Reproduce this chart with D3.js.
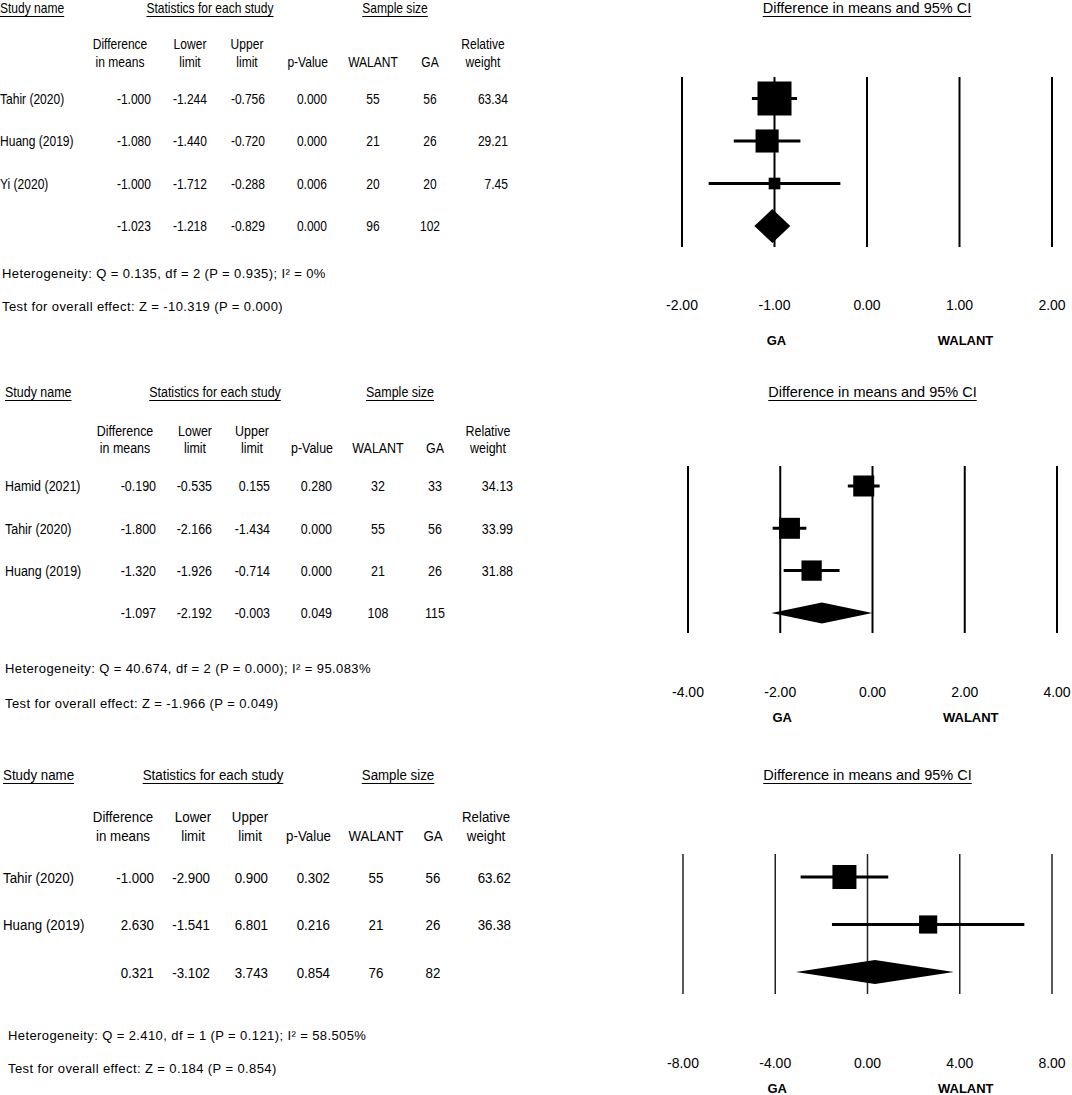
<!DOCTYPE html>
<html>
<head>
<meta charset="utf-8">
<script src="https://cdn.jsdelivr.net/npm/d3@7"></script>
<style>
  body { margin: 0; background: #fff; }
  text { font-family: Arial, 'Liberation Sans', sans-serif; fill: #000; }
</style>
</head>
<body>
<div id="chart"></div>
<script>
// ---- data ----
var studies1 = ['Tahir (2020)', 'Huang (2019)', 'Yi (2020)']
var diff1 = [-1.0, -1.08, -1.0]
var lower1 = [-1.244, -1.44, -1.712]
var upper1 = [-0.756, -0.72, -0.288]
var pval1 = [0.0, 0.0, 0.006]
var walant1 = [55, 21, 20]
var ga1 = [56, 26, 20]
var weight1 = [63.34, 29.21, 7.45]
var pooled1 = [-1.023, -1.218, -0.829]
var pooledP1 = 0.0
var pooledN1 = [96, 102]
var ticks1 = [-2, -1, 0, 1, 2]
var het1 = 'Heterogeneity: Q = 0.135, df = 2 (P = 0.935); I² = 0%'
var overall1 = 'Test for overall effect: Z = -10.319 (P = 0.000)'

var studies2 = ['Hamid (2021)', 'Tahir (2020)', 'Huang (2019)']
var diff2 = [-0.19, -1.8, -1.32]
var lower2 = [-0.535, -2.166, -1.926]
var upper2 = [0.155, -1.434, -0.714]
var pval2 = [0.28, 0.0, 0.0]
var walant2 = [32, 55, 21]
var ga2 = [33, 56, 26]
var weight2 = [34.13, 33.99, 31.88]
var pooled2 = [-1.097, -2.192, -0.003]
var pooledP2 = 0.049
var pooledN2 = [108, 115]
var ticks2 = [-4, -2, 0, 2, 4]
var het2 = 'Heterogeneity: Q = 40.674, df = 2 (P = 0.000); I² = 95.083%'
var overall2 = 'Test for overall effect: Z = -1.966 (P = 0.049)'

var studies3 = ['Tahir (2020)', 'Huang (2019)']
var diff3 = [-1.0, 2.63]
var lower3 = [-2.9, -1.541]
var upper3 = [0.9, 6.801]
var pval3 = [0.302, 0.216]
var walant3 = [55, 21]
var ga3 = [56, 26]
var weight3 = [63.62, 36.38]
var pooled3 = [0.321, -3.102, 3.743]
var pooledP3 = 0.854
var pooledN3 = [76, 82]
var ticks3 = [-8, -4, 0, 4, 8]
var het3 = 'Heterogeneity: Q = 2.410, df = 1 (P = 0.121); I² = 58.505%'
var overall3 = 'Test for overall effect: Z = 0.184 (P = 0.854)'

var groupLabels = ['Study name', 'Statistics for each study', 'Sample size']
var plotTitle = 'Difference in means and 95% CI'
var favours = ['GA', 'WALANT']

// ---- build panel tables ----
var panels = [
  { studies: studies1, diff: diff1, lower: lower1, upper: upper1, p: pval1, walant: walant1, ga: ga1, weight: weight1,
    pooled: pooled1, pooledP: pooledP1, pooledN: pooledN1, ticks: ticks1, het: het1, overall: overall1 },
  { studies: studies2, diff: diff2, lower: lower2, upper: upper2, p: pval2, walant: walant2, ga: ga2, weight: weight2,
    pooled: pooled2, pooledP: pooledP2, pooledN: pooledN2, ticks: ticks2, het: het2, overall: overall2 },
  { studies: studies3, diff: diff3, lower: lower3, upper: upper3, p: pval3, walant: walant3, ga: ga3, weight: weight3,
    pooled: pooled3, pooledP: pooledP3, pooledN: pooledN3, ticks: ticks3, het: het3, overall: overall3 }
]

// layout of each panel on the page
var layouts = [
  { dx: 0, headY: 13, sub1: 49, sub2: 67, row0: 98.5, step: 42.5, hetX: 2, hetY: 278, testY: 311, size: 14,
    x0: 682, x1: 1052, top: 77, bottom: 247, tickY: 310, favY: 345, maxSide: 34, lineW: 2, lineC: '#000' },
  { dx: 5, headY: 397, sub1: 436, sub2: 453, row0: 486, step: 42.3, hetX: 5, hetY: 673, testY: 708, size: 14.5,
    x0: 688, x1: 1057, top: 466, bottom: 633, tickY: 697, favY: 722, maxSide: 21, lineW: 2, lineC: '#000' },
  { dx: 3, headY: 780, sub1: 822, sub2: 841, row0: 877, step: 47.5, hetX: 8, hetY: 1040, testY: 1073, size: 15.5,
    x0: 683, x1: 1052, top: 854, bottom: 994, tickY: 1068, favY: 1093, maxSide: 24, lineW: 1.5, lineC: '#222' }
]

var locale = d3.formatLocale({ decimal: '.', thousands: ',', grouping: [3], currency: ['', ''], minus: '-' })
var f3 = locale.format('.3f')
var f2 = locale.format('.2f')

var sx = 0.86 // table text is horizontally squeezed

var svg = d3
  .select('#chart')
  .append('svg')
  .attr('width', 1072)
  .attr('height', 1095)

svg.append('rect').attr('width', 1072).attr('height', 1095).attr('fill', '#fff')

function label(g, x, y, str, anchor, size, scale) {
  return g
    .append('text')
    .attr('transform', 'translate(' + x + ',' + y + ') scale(' + scale + ',1)')
    .attr('text-anchor', anchor)
    .attr('font-size', size)
    .text(str)
}

function underline(g, t, x, y, anchor, scale) {
  var len = t.node().getComputedTextLength() * scale
  var start = anchor === 'middle' ? x - len / 2 : anchor === 'end' ? x - len : x
  g.append('line')
    .attr('x1', start)
    .attr('x2', start + len)
    .attr('y1', y + 3.5)
    .attr('y2', y + 3.5)
    .attr('stroke', '#000')
    .attr('stroke-width', 1)
}

function drawPanel(p, L) {
  var g = svg.append('g')
  var dx = L.dx
  var s = L.size

  // group headers
  var t = label(g, dx, L.headY, groupLabels[0], 'start', s, sx)
  underline(g, t, dx, L.headY, 'start', sx)
  t = label(g, dx + 210, L.headY, groupLabels[1], 'middle', s, sx)
  underline(g, t, dx + 210, L.headY, 'middle', sx)
  t = label(g, dx + 395, L.headY, groupLabels[2], 'middle', s, sx)
  underline(g, t, dx + 395, L.headY, 'middle', sx)

  // column headers
  label(g, dx + 120, L.sub1, 'Difference', 'middle', s, sx)
  label(g, dx + 120, L.sub2, 'in means', 'middle', s, sx)
  label(g, dx + 190, L.sub1, 'Lower', 'middle', s, sx)
  label(g, dx + 190, L.sub2, 'limit', 'middle', s, sx)
  label(g, dx + 247, L.sub1, 'Upper', 'middle', s, sx)
  label(g, dx + 247, L.sub2, 'limit', 'middle', s, sx)
  label(g, dx + 328, L.sub2, 'p-Value', 'end', s, sx)
  label(g, dx + 373, L.sub2, 'WALANT', 'middle', s, sx)
  label(g, dx + 430, L.sub2, 'GA', 'middle', s, sx)
  label(g, dx + 483, L.sub1, 'Relative', 'middle', s, sx)
  label(g, dx + 483, L.sub2, 'weight', 'middle', s, sx)

  var n = p.studies.length
  var yScale = d3
    .scaleLinear()
    .domain([0, n])
    .range([L.row0, L.row0 + n * L.step])
  var base = s * 0.37

  // study rows
  p.studies.forEach(function(name, i) {
    var y = yScale(i) + base
    label(g, dx, y, name, 'start', s, sx)
    label(g, dx + 151, y, f3(p.diff[i]), 'end', s, sx)
    label(g, dx + 207, y, f3(p.lower[i]), 'end', s, sx)
    label(g, dx + 265, y, f3(p.upper[i]), 'end', s, sx)
    label(g, dx + 327, y, f3(p.p[i]), 'end', s, sx)
    label(g, dx + 373, y, p.walant[i], 'middle', s, sx)
    label(g, dx + 430, y, p.ga[i], 'middle', s, sx)
    label(g, dx + 508, y, f2(p.weight[i]), 'end', s, sx)
  })

  // pooled row
  var yp = yScale(n) + base
  label(g, dx + 151, yp, f3(p.pooled[0]), 'end', s, sx)
  label(g, dx + 207, yp, f3(p.pooled[1]), 'end', s, sx)
  label(g, dx + 265, yp, f3(p.pooled[2]), 'end', s, sx)
  label(g, dx + 327, yp, f3(p.pooledP), 'end', s, sx)
  label(g, dx + 373, yp, p.pooledN[0], 'middle', s, sx)
  label(g, dx + 430, yp, p.pooledN[1], 'middle', s, sx)

  // heterogeneity notes
  g.append('text')
    .attr('x', L.hetX)
    .attr('y', L.hetY)
    .attr('font-size', 13)
    .attr('letter-spacing', 0.4)
    .text(p.het)
  g.append('text')
    .attr('x', L.hetX)
    .attr('y', L.testY)
    .attr('font-size', 13)
    .attr('letter-spacing', 0.4)
    .text(p.overall)

  // ---- forest plot ----
  var dom = d3.extent(p.ticks)
  var xScale = d3
    .scaleLinear()
    .domain(dom)
    .range([L.x0, L.x1])

  var tt = label(g, xScale(0), L.headY, plotTitle, 'middle', 14.5, 1)
  underline(g, tt, xScale(0), L.headY, 'middle', 1)

  g.selectAll('.ref')
    .data(p.ticks)
    .enter()
    .append('line')
    .attr('x1', d => xScale(d))
    .attr('x2', d => xScale(d))
    .attr('y1', L.top)
    .attr('y2', L.bottom)
    .attr('stroke', L.lineC)
    .attr('stroke-width', L.lineW)

  g.selectAll('.tick-label')
    .data(p.ticks)
    .enter()
    .append('text')
    .attr('x', d => xScale(d))
    .attr('y', L.tickY)
    .attr('text-anchor', 'middle')
    .attr('font-size', 14)
    .text(d => f2(d))

  var side = d3
    .scaleSqrt()
    .domain([0, d3.max(p.weight)])
    .range([0, L.maxSide])

  var rows = p.studies.map(function(name, i) {
    return { diff: p.diff[i], lower: p.lower[i], upper: p.upper[i], weight: p.weight[i], i: i }
  })

  g.selectAll('.ci')
    .data(rows)
    .enter()
    .append('line')
    .attr('x1', d => xScale(d.lower))
    .attr('x2', d => xScale(d.upper))
    .attr('y1', d => yScale(d.i))
    .attr('y2', d => yScale(d.i))
    .attr('stroke', '#000')
    .attr('stroke-width', 3)

  g.selectAll('.box')
    .data(rows)
    .enter()
    .append('rect')
    .attr('x', d => xScale(d.diff) - side(d.weight) / 2)
    .attr('y', d => yScale(d.i) - side(d.weight) / 2)
    .attr('width', d => side(d.weight))
    .attr('height', d => side(d.weight))
    .attr('fill', '#000')

  var yd = yScale(n)
  var h = L.maxSide / 2
  g.append('path')
    .attr('d', 'M' + xScale(p.pooled[1]) + ',' + yd +
      'L' + xScale(p.pooled[0]) + ',' + (yd - h) +
      'L' + xScale(p.pooled[2]) + ',' + yd +
      'L' + xScale(p.pooled[0]) + ',' + (yd + h) + 'Z')
    .attr('fill', '#000')

  g.append('text')
    .attr('x', xScale(dom[0] / 2) + 2)
    .attr('y', L.favY)
    .attr('text-anchor', 'middle')
    .attr('font-size', 13)
    .attr('font-weight', 700)
    .text(favours[0])
  g.append('text')
    .attr('x', xScale(dom[1] / 2) + 6)
    .attr('y', L.favY)
    .attr('text-anchor', 'middle')
    .attr('font-size', 13)
    .attr('font-weight', 700)
    .text(favours[1])
}

panels.forEach(function(p, i) {
  drawPanel(p, layouts[i])
})
</script>
</body>
</html>
